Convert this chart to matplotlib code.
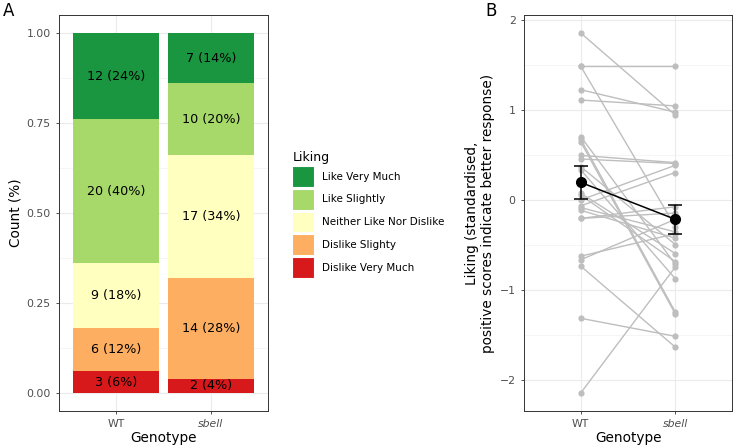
import numpy as np
import matplotlib.pyplot as plt
from matplotlib.patches import Patch

# panel A data
genotypes = ["WT", "sbell"]
liking_levels = ["Dislike Very Much", "Dislike Slighty", "Neither Like Nor Dislike",
                 "Like Slightly", "Like Very Much"]
level_colors = ["#d7191c", "#fdae61", "#ffffbf", "#a6d96a", "#1a9641"]
counts_wt = [3, 6, 9, 20, 12]
counts_sbell = [2, 14, 17, 10, 7]

# panel B data (paired standardised scores)
liking_wt = [1.85, 1.48, 1.48, 1.22, 1.105, 0.70, 0.67, 0.64, 0.49, 0.45, 0.365, 0.33,
             0.07, 0.05, -0.005, -0.07, -0.09, -0.12, -0.21, -0.21, -0.63, -0.67,
             -0.74, -1.32, -2.15]
liking_sbell = [0.94, 1.48, -0.30, 0.97, 1.04, -0.72, -1.25, -1.27, 0.41, 0.40, -0.50, -0.88,
                -0.60, -0.69, 0.38, 0.30, -0.36, -0.43, -0.15, -0.08, -0.38, -0.22,
                -1.64, -1.52, -0.75]
mean_liking = [0.19, -0.22]
se_liking = [0.18, 0.16]

TICK_C = "#4d4d4d"
GRID_C = "#ebebeb"
BORDER_C = "#333333"

fig = plt.figure(figsize=(7.34, 4.47), dpi=100)
W, H = 734, 447


def px_axes(x0, y0, x1, y1):
    return fig.add_axes([x0 / W, 1 - y1 / H, (x1 - x0) / W, (y1 - y0) / H])


def style_bw(ax):
    ax.set_facecolor("white")
    for s in ax.spines.values():
        s.set_color(BORDER_C)
        s.set_linewidth(0.7)
    ax.tick_params(colors=BORDER_C, labelcolor=TICK_C, labelsize=7.8, length=2.5, width=0.6)
    ax.grid(True, which="major", color=GRID_C, linewidth=0.8)
    ax.grid(True, which="minor", axis="y", color="#f2f2f2", linewidth=0.5)
    ax.set_axisbelow(True)


# ---- panel A ----
axA = px_axes(59, 15, 268, 411)
style_bw(axA)
x = np.arange(1, len(genotypes) + 1)
for i, counts in enumerate([counts_wt, counts_sbell]):
    total = sum(counts)
    bottom = 0.0
    for c, col in zip(counts, level_colors):
        frac = c / total
        axA.bar(x[i], frac, bottom=bottom, width=0.9, color=col, zorder=2)
        axA.text(x[i], bottom + frac / 2, f"{c} ({round(frac * 100)}%)",
                 ha="center", va="center", fontsize=9.2, color="black", zorder=3)
        bottom += frac
axA.set_xlim(0.4, 2.6)
axA.set_ylim(-0.05, 1.05)
axA.set_yticks([0, 0.25, 0.5, 0.75, 1.0])
axA.set_yticklabels(["0.00", "0.25", "0.50", "0.75", "1.00"])
axA.set_yticks([0.125, 0.375, 0.625, 0.875], minor=True)
axA.tick_params(axis="y", which="minor", length=0)
axA.set_xticks(x)
axA.set_xticklabels(genotypes)
axA.get_xticklabels()[1].set_style("italic")
axA.set_xlabel("Genotype", fontsize=9.8, labelpad=1.5)
axA.set_ylabel("Count (%)", fontsize=9.8, labelpad=3)

handles = [Patch(facecolor=c, edgecolor="white", linewidth=0.8) for c in reversed(level_colors)]
leg = fig.legend(handles, list(reversed(liking_levels)), title="Liking",
                 loc="upper left", bbox_to_anchor=(285 / W, 1 - 144 / H),
                 frameon=False, fontsize=7.5, title_fontsize=9,
                 handlelength=2.1, handleheight=2.7, handletextpad=0.8,
                 labelspacing=0.18, borderpad=0.2)
leg._legend_box.align = "left"

# ---- panel B ----
axB = px_axes(524, 15, 732, 411)
style_bw(axB)
for a, b in zip(liking_wt, liking_sbell):
    axB.plot([1, 2], [a, b], color="#bebebe", linewidth=1.0, zorder=2)
axB.scatter([1] * len(liking_wt), liking_wt, s=20, color="#bebebe", zorder=3, linewidths=0)
axB.scatter([2] * len(liking_sbell), liking_sbell, s=20, color="#bebebe", zorder=3, linewidths=0)
axB.plot([1, 2], mean_liking, color="black", linewidth=1.1, zorder=4)
axB.errorbar([1, 2], mean_liking, yerr=se_liking, fmt="o", color="black", markersize=7,
             capsize=5, elinewidth=1.1, capthick=1.1, zorder=5)
axB.set_xlim(0.4, 2.6)
axB.set_ylim(-2.35, 2.05)
axB.set_yticks([-2, -1, 0, 1, 2])
axB.set_yticks([-1.5, -0.5, 0.5, 1.5], minor=True)
axB.tick_params(axis="y", which="minor", length=0)
axB.set_xticks([1, 2])
axB.set_xticklabels(genotypes)
axB.get_xticklabels()[1].set_style("italic")
axB.set_xlabel("Genotype", fontsize=9.8, labelpad=1.5)
axB.set_ylabel("Liking (standardised,\npositive scores indicate better response)",
               fontsize=9.8, labelpad=3)

fig.text(3 / W, 1 - 2 / H, "A", fontsize=12, va="top", ha="left")
fig.text(485 / W, 1 - 2 / H, "B", fontsize=12, va="top", ha="left")

fig.savefig("out.png", dpi=100)
